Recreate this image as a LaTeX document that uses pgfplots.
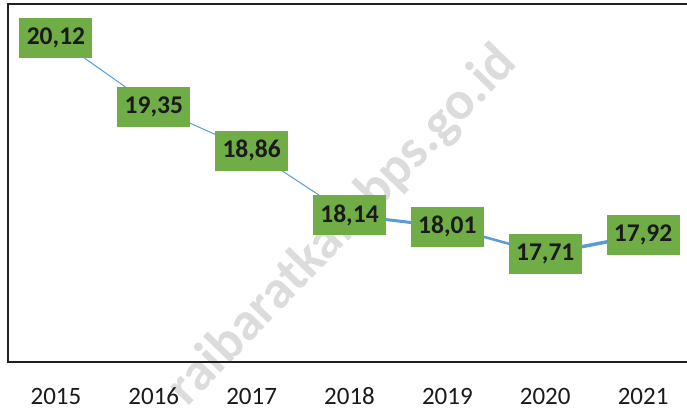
\documentclass[border=0pt]{standalone}
\usepackage{pgfplots}
\pgfplotsset{compat=1.18}
\usepackage{pgfplotstable}
\usepackage{fontspec}
\setmainfont{Carlito}
\definecolor{linblue}{HTML}{5B9BD5}
\definecolor{boxgreen}{HTML}{70AD47}
\definecolor{framec}{HTML}{231F20}
\definecolor{wm}{HTML}{DCDCDC}
\definecolor{txt}{HTML}{1A1A1A}
\pgfplotstableread{
x y lab
0 20.12 {20,12}
1 19.35 {19,35}
2 18.86 {18,86}
3 18.14 {18,14}
4 18.01 {18,01}
5 17.71 {17,71}
6 17.92 {17,92}
}\datatable
\begin{document}
\begin{tikzpicture}
\clip (0,0) rectangle (687pt,-409pt);
\node[rotate=46, text=wm, font=\fontsize{54}{60}\selectfont\bfseries] at (343pt,-226pt) {raibaratkab.bps.go.id};
\begin{axis}[at={(8pt,-4pt)}, anchor=north west, scale only axis,
  width=685pt, height=358pt,
  xmin=-0.49, xmax=6.51, ymin=16.5, ymax=20.5,
  axis line style={framec, line width=2.5pt},
  ytick=\empty, xtick={0,1,2,3,4,5,6},
  xticklabels={2015,2016,2017,2018,2019,2020,2021},
  major tick length=0pt,
  xticklabel style={anchor=center, yshift=-34pt, font=\fontsize{25}{30}\selectfont, text=txt},
  clip=false]
\addplot[linblue, line width=1pt, no markers] coordinates {(0,20.12)(1,19.35)(2,18.86)(3,18.14)};
\addplot[linblue, line width=3pt, no markers] coordinates {(3,18.14)(4,18.01)};
\addplot[linblue, line width=2.5pt, no markers] coordinates {(4,18.01)(5,17.71)};
\addplot[linblue, line width=3.5pt, no markers] coordinates {(5,17.71)(6,17.92)};
\addplot[draw=none, no markers, nodes near coords, point meta=explicit symbolic,
  nodes near coords style={fill=boxgreen, minimum width=73pt, minimum height=40pt, inner sep=0pt, anchor=center,
  font=\fontsize{25.5}{28}\selectfont\bfseries, text=txt}]
  table[x=x,y=y,meta=lab]{\datatable};
\end{axis}
\end{tikzpicture}
\end{document}
